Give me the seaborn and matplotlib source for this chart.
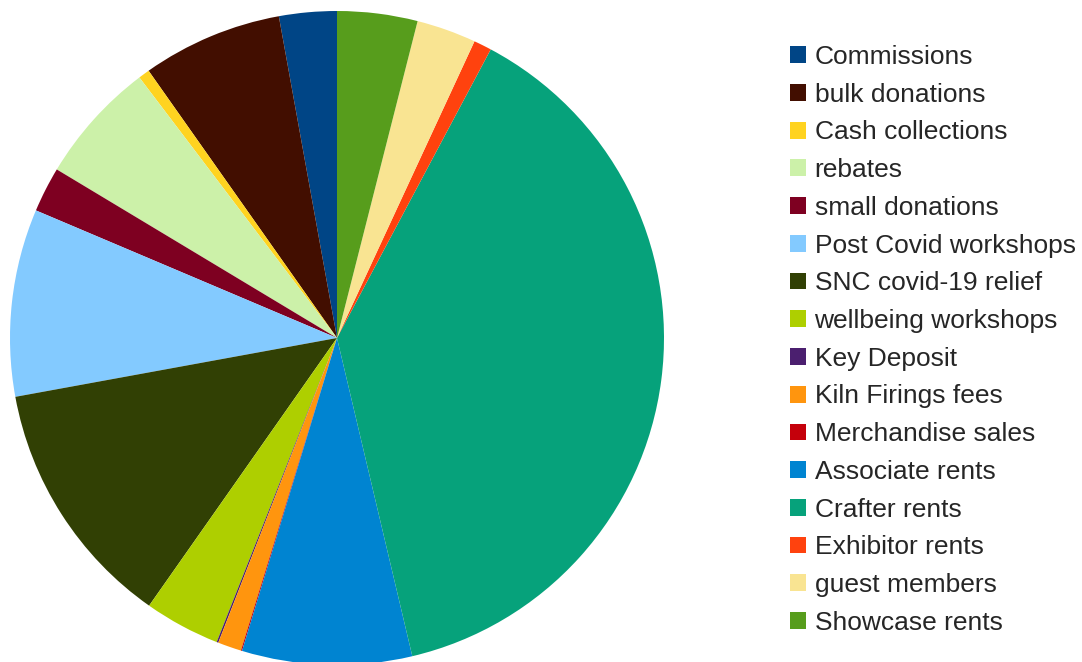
import matplotlib
matplotlib.use("Agg")
import matplotlib.pyplot as plt
import seaborn as sns
from matplotlib.patches import Patch

# slice sizes (share of the circle, degrees)
categories = ["Commissions", "bulk donations", "Cash collections", "rebates",
              "small donations", "Post Covid workshops", "SNC covid-19 relief",
              "wellbeing workshops", "Key Deposit", "Kiln Firings fees",
              "Merchandise sales", "Associate rents", "Crafter rents",
              "Exhibitor rents", "guest members", "Showcase rents"]
values = [10.25, 24.93, 2.0, 21.79, 8.06, 33.33, 44.56, 13.48, 0.3, 4.2,
          0.2, 30.2, 138.63, 3.18, 10.59, 14.27]
colors = ["#004586", "#420e00", "#ffd320", "#ccf1a9", "#7e0021", "#83caff",
          "#314004", "#aecf00", "#4b1f6f", "#ff950e", "#c5000b", "#0084d1",
          "#06a27b", "#ff420e", "#f9e492", "#579d1c"]

sns.set_theme(style="white")
plt.rcParams['font.family'] = ['Liberation Sans', 'DejaVu Sans']
palette = sns.color_palette(colors)

fig = plt.figure(figsize=(10.82, 6.62), dpi=100)
ax = fig.add_axes([10 / 1082, -3 / 662, 654 / 1082, 654 / 662])
ax.pie(values, colors=palette, startangle=90, counterclock=True,
       wedgeprops=dict(linewidth=0))
ax.set_xlim(-1, 1)
ax.set_ylim(-1, 1)
ax.axis("off")

handles = [Patch(facecolor=c, edgecolor="none") for c in palette]
fig.legend(handles, categories, loc="upper left",
           bbox_to_anchor=(790 / 1082, 1 - 45 / 662), frameon=False,
           fontsize=19.0, handlelength=0.6, handleheight=0.6,
           handletextpad=0.33, labelspacing=0.52, borderpad=0,
           borderaxespad=0)

fig.savefig("out.png", dpi=100, facecolor="white")
